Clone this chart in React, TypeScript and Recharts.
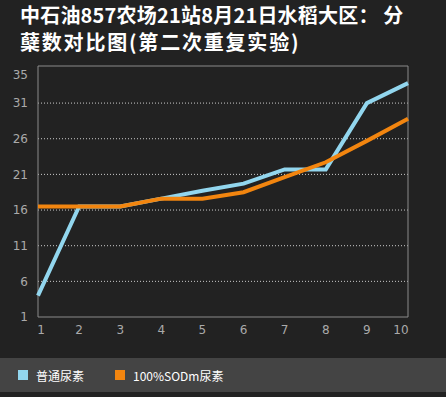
import React from 'react';
import { LineChart, Line, XAxis, YAxis, CartesianGrid, ReferenceArea } from 'recharts';

const categories = [1, 2, 3, 4, 5, 6, 7, 8, 9, 10];
const ordinaryUrea = [4, 16.5, 16.5, 17.6, 18.7, 19.7, 21.7, 21.7, 31, 33.8];
const sodmUrea = [16.5, 16.5, 16.5, 17.6, 17.6, 18.5, 20.6, 22.7, 25.7, 28.8];
const yTicks = [1, 6, 11, 16, 21, 26, 31, 35];
const gridValues = [6, 11, 16, 21, 26, 31];
const seriesNames = ['普通尿素', '100%SODm尿素'];
const titleLines = ['中石油857农场21站8月21日水稻大区： 分', '蘖数对比图(第二次重复实验)'];

const data = categories.map((c, i) => ({ x: c, a: ordinaryUrea[i], b: sodmUrea[i] }));

const BLUE = '#92d6ee';
const ORANGE = '#f2850f';
const Y_MAX = 36.2;

const XTick = (props: any) => {
  const { x, y, payload } = props;
  const v = payload.value;
  const dx = v === 1 ? 3 : v === 10 ? -7 : 0;
  return (
    <text x={x + dx} y={y} dy="0.71em" textAnchor="middle" fill="#aaaaaa" fontSize={12} fontFamily='"DejaVu Sans", sans-serif'>
      {v}
    </text>
  );
};

export default function App() {
  return (
    <div style={{ position: 'fixed', left: 0, top: 0, width: 446, height: 397, background: '#222222', overflow: 'hidden' }}>
      <div style={{ position: 'absolute', left: 20, top: 1, color: '#ffffff', fontFamily: '"Noto Sans CJK SC", sans-serif', fontWeight: 700, fontSize: 20, lineHeight: '27px', whiteSpace: 'pre' }}>
        <div style={{ letterSpacing: 0.2 }}>{titleLines[0]}</div>
        <div style={{ letterSpacing: 1.8 }}>{titleLines[1]}</div>
      </div>
      <div style={{ position: 'absolute', left: 0, top: 0 }}>
        <LineChart width={446} height={397} data={data} margin={{ top: 66, right: 38, bottom: 60, left: 8 }}>
          <CartesianGrid horizontal={true} vertical={false} horizontalValues={gridValues} stroke="#cccccc" strokeDasharray="1 2" />
          <ReferenceArea x1={1} x2={10} y1={1} y2={Y_MAX} fill="none" stroke="#8a8a8a" strokeWidth={1} ifOverflow="visible" />
          <XAxis dataKey="x" type="number" domain={[1, 10]} ticks={categories} axisLine={false} tickLine={false} tickSize={0} tickMargin={8} height={20} tick={<XTick />} interval={0} />
          <YAxis type="number" domain={[1, Y_MAX]} ticks={yTicks} axisLine={false} tickLine={false} tickSize={0} tickMargin={10} width={30} tick={{ fill: '#aaaaaa', fontSize: 12, fontFamily: '"DejaVu Sans", sans-serif' }} interval={0} />
          <Line type="linear" dataKey="a" name={seriesNames[0]} stroke={BLUE} strokeWidth={4} dot={false} isAnimationActive={false} />
          <Line type="linear" dataKey="b" name={seriesNames[1]} stroke={ORANGE} strokeWidth={4} dot={false} isAnimationActive={false} />
        </LineChart>
      </div>
      <div style={{ position: 'absolute', left: 0, top: 358, width: 446, height: 34, background: '#444444', display: 'flex', alignItems: 'center', fontFamily: '"Noto Sans CJK SC", sans-serif', fontSize: 12, color: '#ffffff' }}>
        <span style={{ display: 'inline-block', width: 10, height: 10, background: BLUE, marginLeft: 18 }} />
        <span style={{ marginLeft: 8 }}>{seriesNames[0]}</span>
        <span style={{ display: 'inline-block', width: 10, height: 10, background: ORANGE, marginLeft: 31 }} />
        <span style={{ marginLeft: 8 }}>{seriesNames[1]}</span>
      </div>
    </div>
  );
}
